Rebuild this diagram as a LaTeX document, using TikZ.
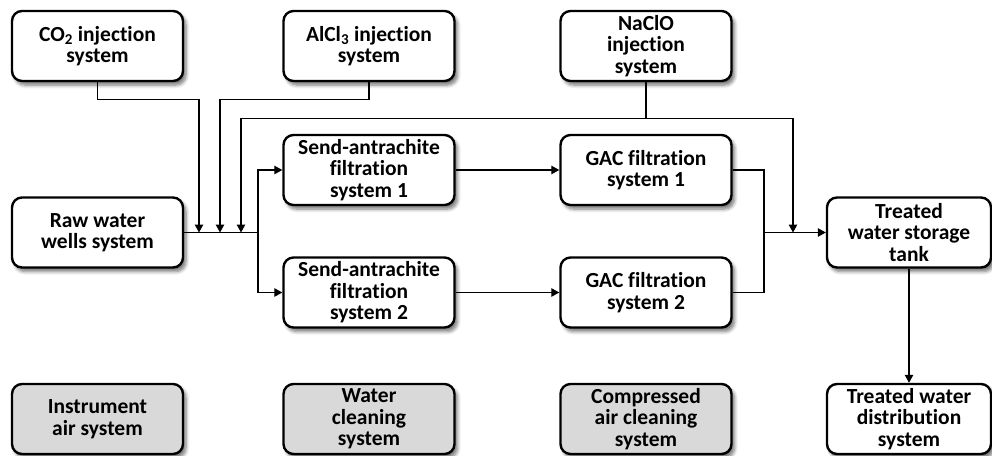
\documentclass[tikz,border=0pt]{standalone}
\usepackage{fontspec}
\setmainfont{Carlito}[RawFeature=-liga]
\usetikzlibrary{arrows.meta,shadows.blur}
\begin{document}
\begin{tikzpicture}[x=1pt,y=-1pt,
  box/.style={draw=black, line width=2.4pt, rounded corners=10pt, fill=white,
    minimum width=171pt, minimum height=70pt, inner sep=1pt, align=center,
    font=\fontsize{21.5}{21.5}\selectfont\bfseries,
    blur shadow={shadow xshift=3pt, shadow yshift=-4pt, shadow blur steps=6, shadow opacity=55, shadow blur radius=3.5pt}},
  gbox/.style={box, fill=black!15},
  conn/.style={line width=1.1pt, draw=black},
  arr/.style={conn, -{Triangle[length=8pt,width=8.5pt]}}]
\useasboundingbox (0,0) rectangle (992,455);
% nodes
\node[box] (co2)  at (97.5,46)  {CO\textsubscript{2} injection\\system};
\node[box] (alcl) at (369,46)   {AlCl\textsubscript{3} injection\\system};
\node[box] (nacl) at (646,46)   {NaClO\\injection\\system};
\node[box] (raw)  at (97.5,232.5) {Raw water\\wells system};
\node[box] (sa1)  at (369,170)  {Send-antrachite\\filtration\\system 1};
\node[box] (sa2)  at (369,292.5) {Send-antrachite\\filtration\\system 2};
\node[box] (gac1) at (646,170)  {GAC filtration\\system 1};
\node[box] (gac2) at (646,292.5) {GAC filtration\\system 2};
\node[box, minimum width=164pt] (store) at (909,232.5) {Treated\\water storage\\tank};
\node[box, minimum width=164pt] (dist)  at (909,419) {Treated water\\distribution\\system};
\node[gbox] (instr) at (97.5,419) {Instrument\\air system};
\node[gbox] (wclean) at (369,419) {Water\\cleaning\\system};
\node[gbox] (cair) at (646,419) {Compressed\\air cleaning\\system};
% junction coordinates
\coordinate (m1) at (199,232.5);
\coordinate (m2) at (220,232.5);
\coordinate (m3) at (241,232.5);
\coordinate (jn) at (258,232.5);
\coordinate (m4) at (793,232.5);
\coordinate (k)  at (764,232.5);
% connectors
\draw[conn] (raw.east) -- (jn);
\draw[arr] (co2.south) -- ++(0,17) -| (m1);
\draw[arr] (alcl.south) -- ++(0,17) -| (m2);
\draw[conn] (nacl.south) -- ++(0,36) coordinate (n0);
\draw[arr] (n0) -| (m3);
\draw[arr] (n0) -| (m4);
\draw[arr] (jn) |- (sa1.west);
\draw[arr] (jn) |- (sa2.west);
\draw[arr] (sa1.east) -- (gac1.west);
\draw[arr] (sa2.east) -- (gac2.west);
\draw[conn] (gac1.east) -| (k);
\draw[conn] (gac2.east) -| (k);
\draw[arr] (k) -- (store.west);
\draw[arr] (store.south) -- (dist.north);
\end{tikzpicture}
\end{document}
